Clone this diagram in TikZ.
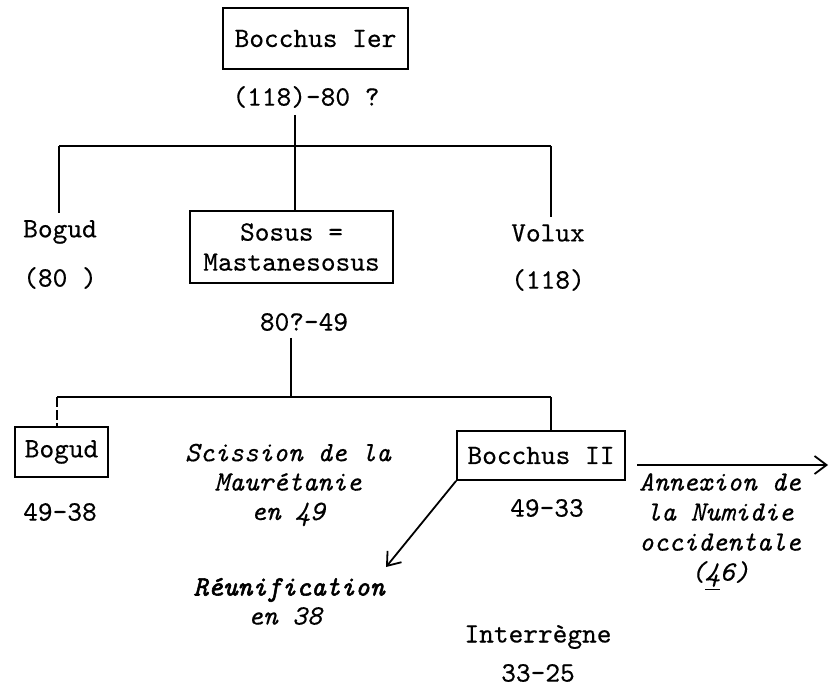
\documentclass[tikz,border=0pt]{standalone}
\usepackage{fontspec}
\usetikzlibrary{arrows.meta}
\setmonofont{lmmono10-regular.otf}[FakeBold=0.4, ItalicFont=lmmono10-italic.otf, ItalicFeatures={FakeBold=0.3}, BoldItalicFont=lmmono10-italic.otf, BoldItalicFeatures={FakeBold=2}]
\begin{document}
\begin{tikzpicture}[x=0.5pt,y=-0.5pt,
  every node/.style={font=\ttfamily\fontsize{14}{15}\selectfont},
  box/.style={draw, line width=0.9pt, inner sep=0pt},
  itl/.style={font=\ttfamily\itshape\fontsize{14}{14.7}\selectfont, align=center},
  itr/.style={font=\ttfamily\itshape\fontsize{14}{15}\selectfont, align=center},
  bit/.style={font=\ttfamily\bfseries\itshape\fontsize{14}{15}\selectfont},
  conn/.style={line width=0.9pt},
  arr/.style={line width=0.9pt, -{Straight Barb[length=6pt,width=9pt]}}]
\useasboundingbox (0,0) rectangle (829,695);
% level 1
\node[box, minimum width=92.5pt, minimum height=30.5pt] (bI) at (315.5,38.5) {Bocchus Ier};
\node (dI) at (306,97) {(118)-80 ?};
% level 2
\node (bog1) at (60,232) {Bogud};
\node (dbog1) at (60,278) {(80 )};
\node[box, align=center, minimum width=101.5pt, minimum height=36pt] (sos) at (291.5,247) {Sosus =\\Mastanesosus};
\node (vol) at (548,233) {Volux};
\node (dvol) at (548,280) {(118)};
\node (dsos) at (304,322) {80?-49};
% level 3
\node[box, minimum width=46.5pt, minimum height=25pt] (bog2) at (61.5,452) {Bogud};
\node (dbog2) at (60,512) {49-38};
\node[itl] (sci) at (288,485) {Scission de la\\Maurétanie\\en 49};
\node[box, minimum width=84pt, minimum height=24.5pt] (bII) at (541,455.5) {Bocchus II};
\node (dbII) at (547,508) {49-33};
\node[itr] (ann) at (720,532) {Annexion de\\la Numidie\\occidentale\\(\underline{4}6)};
\node[bit] (reu) at (289,590) {Réunification};
\node[itl] (en38) at (285,616) {en 38};
\node (inter) at (538,637) {Interrègne};
\node (dinter) at (538,673) {33-25};
% connectors
\coordinate (h1l) at (59,146);
\coordinate (h1c) at (295,146);
\coordinate (h1r) at (551,146);
\draw[conn] (h1l) -- (h1r);
\draw[conn] (h1l) -- (h1l |- bog1.north);
\draw[conn] (h1c |- dI.south) -- (h1c |- sos.north);
\draw[conn] (h1r) -- (h1r |- vol.north);
\coordinate (h2l) at (57,397);
\coordinate (h2c) at (291,397);
\coordinate (h2r) at (551,397);
\draw[conn] (h2c |- dsos.south) -- (h2c);
\draw[conn] (h2l) -- (h2r);
\draw[conn, dash pattern=on 5pt off 1.5pt] (h2l) -- (h2l |- bog2.north);
\draw[conn] (h2r) -- (h2r |- bII.north);
\coordinate (reuend) at (386,567);
\draw[arr] (bII.south west) -- (reuend);
\coordinate (annstart) at (637,465);
\coordinate (annend) at (828,465);
\draw[arr] (annstart) -- (annend);
\end{tikzpicture}
\end{document}
